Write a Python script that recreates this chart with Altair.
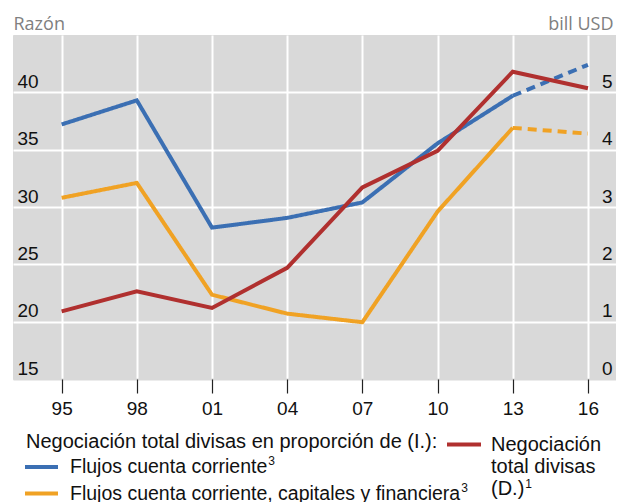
import altair as alt
import pandas as pd

# ---- data ----
years = [1995, 1998, 2001, 2004, 2007, 2010, 2013, 2016]
# left axis (ratio)
current_account = [37.2, 39.3, 28.2, 29.05, 30.4, 35.55, 39.7, 42.4]
all_accounts = [30.8, 32.1, 22.35, 20.7, 19.95, 29.6, 36.9, 36.4]
# right axis (trillion USD)
fx_turnover = [1.18, 1.53, 1.24, 1.94, 3.34, 3.98, 5.36, 5.07]
projection_from = 2013  # dashed segments from here on

series_names = ["Flujos cuenta corriente",
                "Flujos cuenta corriente, capitales y financiera"]
series_notes = ["3", "3"]
red_name_lines = ["Negociación", "total divisas", "(D.)"]
red_note = "1"
legend_header = "Negociación total divisas en proporción de (I.):"
left_title = "Razón"
right_title = "bill USD"

BLUE = "#3b6fb3"
ORANGE = "#f0a224"
RED = "#b0302f"
FONT = "Liberation Sans"
LEG_SIZE = 19.5
HEAD_SIZE = 20

# Liberation Sans advance widths (per 1000 em) for placing superscripts
ADV = {" ": 278, ",": 278, ".": 278, "(": 333, ")": 333, "D": 722, "F": 611,
       "a": 556, "c": 500, "e": 556, "f": 278, "i": 222, "j": 222, "l": 222,
       "n": 556, "o": 556, "p": 556, "r": 333, "s": 500, "t": 278, "u": 556,
       "y": 500}


def text_width(s, size):
    return sum(ADV.get(ch, 556) for ch in s) * size / 1000.0


# ---- build tables ----
rows = []
for name, vals in zip(series_names, [current_account, all_accounts]):
    for y, v in zip(years, vals):
        if y <= projection_from:
            rows.append({"series": name, "year": y, "value": v, "seg": "solid",
                         "key": name + "solid"})
        if y >= projection_from:
            rows.append({"series": name, "year": y, "value": v, "seg": "dashed",
                         "key": name + "dashed"})
df_left = pd.DataFrame(rows)
df_right = pd.DataFrame({"year": years, "value": fx_turnover})

x_enc = alt.X(
    "year:Q",
    scale=alt.Scale(domain=[1993.06, 2017.12], nice=False, zero=False),
    axis=alt.Axis(values=years, labelExpr="substring(toString(datum.value), 2)",
                  grid=True, gridColor="white", gridWidth=2,
                  ticks=True, tickSize=14, tickColor="#222", tickWidth=1.2,
                  domain=False, labelFontSize=19, labelFont=FONT,
                  labelColor="#111", labelPadding=6, title=None),
)

left = alt.Chart(df_left).mark_line(strokeWidth=4, strokeCap="butt").encode(
    x=x_enc,
    y=alt.Y("value:Q",
            scale=alt.Scale(domain=[15, 45], nice=False, zero=False),
            axis=alt.Axis(orient="left", values=[15, 20, 25, 30, 35, 40],
                          grid=True,
                          gridColor={"condition": {"test": "datum.value == 15", "value": "#d9d9d9"},
                                     "value": "white"},
                          gridWidth=2, ticks=False, domain=False,
                          labelAlign="left", labelBaseline="alphabetic",
                          labelPadding=-4, labelOffset=-5,
                          labelFontSize=19, labelFont=FONT, labelColor="#111",
                          title=left_title, titleAngle=0, titleAlign="left",
                          titleBaseline="alphabetic", titleX=0, titleY=-6,
                          titleFont="Open Sans", titleFontSize=18,
                          titleFontWeight="normal", titleColor="#808080")),
    color=alt.Color("series:N", scale=alt.Scale(domain=series_names, range=[BLUE, ORANGE]),
                    legend=None),
    strokeDash=alt.StrokeDash("seg:N", scale=alt.Scale(domain=["solid", "dashed"],
                                                       range=[[1, 0], [9, 6]]),
                              legend=None),
    detail="key:N",
)

right = alt.Chart(df_right).mark_line(strokeWidth=4, color=RED, strokeCap="butt").encode(
    x=x_enc,
    y=alt.Y("value:Q",
            scale=alt.Scale(domain=[0, 6], nice=False, zero=False),
            axis=alt.Axis(orient="right", values=[0, 1, 2, 3, 4, 5], grid=False,
                          ticks=False, domain=False,
                          labelAlign="right", labelBaseline="alphabetic",
                          labelPadding=-4, labelOffset=-5,
                          labelFontSize=19, labelFont=FONT, labelColor="#111",
                          title=right_title, titleAngle=0, titleAlign="right",
                          titleBaseline="alphabetic", titleX=-3, titleY=-6,
                          titleFont="Open Sans", titleFontSize=18,
                          titleFontWeight="normal", titleColor="#808080")),
)

# ---- custom legend ----
dummy = pd.DataFrame({"d": [0]})


def rule(color, x1, x2, y):
    return alt.Chart(dummy).mark_rule(strokeWidth=4, color=color).encode(
        x=alt.value(x1), x2=alt.value(x2), y=alt.value(y))


def label(text, x, y, size=LEG_SIZE):
    return alt.Chart(dummy).mark_text(
        text=text, align="left", baseline="alphabetic", font=FONT, fontSize=size,
        color="#111").encode(x=alt.value(x), y=alt.value(y))


def sup(text, x, y):
    return label(text, x + 1, y - 7.5, size=12)


legend_layers = [
    label(legend_header, 13, 413, HEAD_SIZE),
    rule(BLUE, 12, 45, 432),
    label(series_names[0], 57, 437.5),
    sup(series_notes[0], 57 + text_width(series_names[0], LEG_SIZE), 437.5),
    rule(ORANGE, 12, 45, 458.5),
    label(series_names[1], 57, 464.5),
    sup(series_notes[1], 57 + text_width(series_names[1], LEG_SIZE), 464.5),
    rule(RED, 434, 468, 409.5),
]
for i, line in enumerate(red_name_lines):
    legend_layers.append(label(line, 478, 416 + 22 * i, HEAD_SIZE))
legend_layers.append(sup(red_note, 478 + text_width(red_name_lines[-1], HEAD_SIZE),
                         416 + 22 * (len(red_name_lines) - 1)))

chart = alt.layer(left, right, *legend_layers).resolve_scale(
    y="independent"
).properties(
    width=603, height=344,
    padding={"left": 5, "top": 27, "right": 0, "bottom": 123},
    autosize=alt.AutoSizeParams(type="none"),
).configure_view(fill="#d9d9d9", stroke="#d9d9d9")

chart.save("out.html", embed_options={"renderer": "svg", "actions": False})
